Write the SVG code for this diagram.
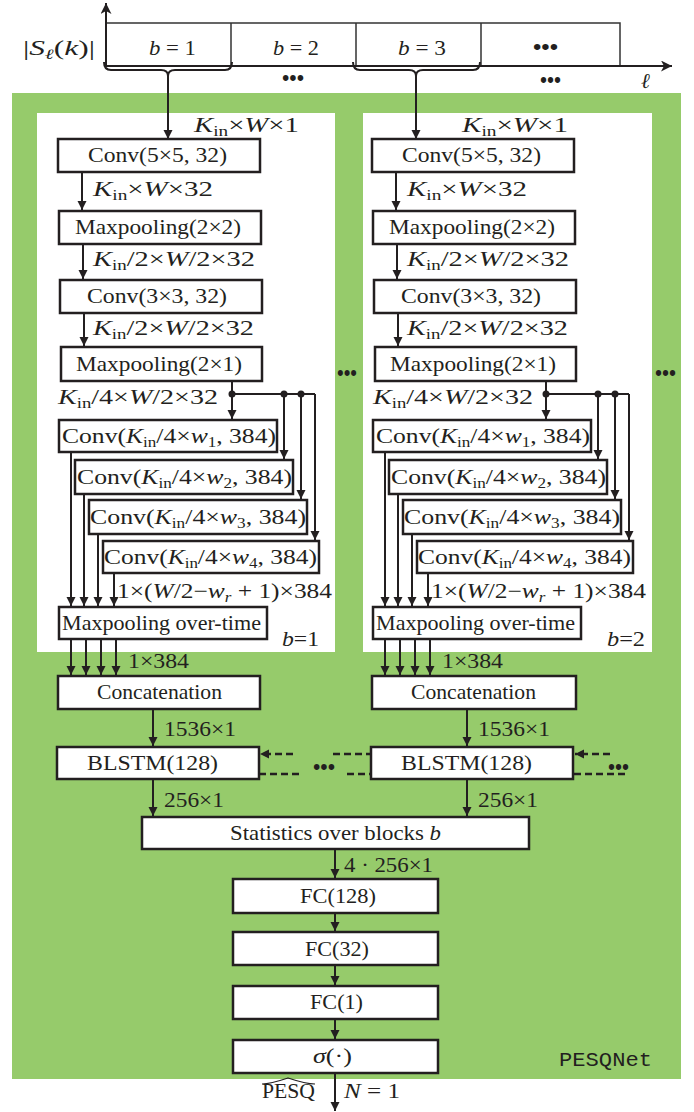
<svg xmlns="http://www.w3.org/2000/svg" width="694" height="1112" viewBox="0 0 694 1112">
<defs>
<style>
.t{font-family:"Liberation Serif",serif;font-size:21px;fill:#231f20}
.i{font-style:italic}
.s{font-size:14px}
.d{font-family:"Liberation Sans",sans-serif;font-size:22px;fill:#231f20}
.box{fill:#fff;stroke:#231f20;stroke-width:2.5}
.ln{stroke:#231f20;stroke-width:2;fill:none}
.ar{stroke:#231f20;stroke-width:2;fill:none;marker-end:url(#ah)}
.da{stroke:#231f20;stroke-width:2.5;fill:none;stroke-dasharray:7 4}
.dar{stroke:#231f20;stroke-width:2.5;fill:none;stroke-dasharray:7 4;marker-end:url(#ah)}
.ax{stroke:#231f20;stroke-width:2;fill:none;marker-end:url(#axh)}
</style>
<marker id="ah" markerUnits="userSpaceOnUse" markerWidth="10" markerHeight="10" refX="9" refY="4.5" orient="auto">
<path d="M0,0 L9,4.5 L0,9 z" fill="#231f20"/>
</marker>
<marker id="axh" markerUnits="userSpaceOnUse" markerWidth="12" markerHeight="12" refX="11" refY="5.5" orient="auto">
<path d="M0,0 L11,5.5 L0,11 L3,5.5 z" fill="#231f20"/>
</marker>
</defs>
<rect x="0" y="0" width="694" height="1112" fill="#fff"/>

<!-- input spectrogram band -->
<g id="input">
<rect x="106" y="23" width="514" height="43" fill="#fff" stroke="#333" stroke-width="1.5"/>
<path d="M231,23 V66 M356,23 V66 M481,23 V66" stroke="#333" stroke-width="1.5" fill="none"/>
<path class="ax" d="M106,66 V3"/>
<path class="ax" d="M106,66 H672"/>
<text class="t" x="23" y="55" textLength="72" lengthAdjust="spacingAndGlyphs">|<tspan class="i">S</tspan><tspan class="s i" dy="4">ℓ</tspan><tspan dy="-4">(</tspan><tspan class="i">k</tspan>)|</text>
<text class="t" x="149" y="55" textLength="47" lengthAdjust="spacingAndGlyphs"><tspan class="i">b</tspan> = 1</text>
<text class="t" x="273" y="55" textLength="46" lengthAdjust="spacingAndGlyphs"><tspan class="i">b</tspan> = 2</text>
<text class="t" x="398" y="55" textLength="48" lengthAdjust="spacingAndGlyphs"><tspan class="i">b</tspan> = 3</text>
<text class="d" x="533" y="54" textLength="25" lengthAdjust="spacingAndGlyphs">•••</text>
<text class="d" x="282" y="85" textLength="22" lengthAdjust="spacingAndGlyphs">•••</text>
<text class="d" x="540" y="87" textLength="21" lengthAdjust="spacingAndGlyphs">•••</text>
<text class="t i" x="641" y="88">ℓ</text>
<path class="ln" d="M104,62 Q104,70 111,70 L161,70 Q168,70 168,76 Q168,70 175,70 L225,70 Q232,70 232,62"/>
<path class="ln" d="M353,62 Q353,70 360,70 L409,70 Q416,70 416,76 Q416,70 423,70 L473,70 Q480,70 480,62"/>
</g>

<!-- network background -->
<g id="pesqnet">
<rect x="12" y="93" width="669" height="986" fill="#96cb6b"/>
<rect x="37" y="113" width="298" height="539" fill="#fff"/>
<rect x="363" y="113" width="289" height="539" fill="#fff"/>
<text x="559" y="1066" font-family="Liberation Mono, monospace" font-size="21" fill="#231f20" textLength="93" lengthAdjust="spacingAndGlyphs">PESQNet</text>
<text class="d" x="337" y="380" textLength="20" lengthAdjust="spacingAndGlyphs">•••</text>
<text class="d" x="655" y="380" textLength="21" lengthAdjust="spacingAndGlyphs">•••</text>
<text class="d" x="313" y="774" textLength="22" lengthAdjust="spacingAndGlyphs">•••</text>
<text class="d" x="608" y="774" textLength="21" lengthAdjust="spacingAndGlyphs">•••</text>
</g>

<!-- connectors -->
<g id="connectors">
<path class="ar" d="M168,76 V139"/>
<path class="ar" d="M416,76 V139"/>
<!-- left column -->
<path class="ar" d="M82,172 V210"/>
<path class="ar" d="M83,244 V279"/>
<path class="ar" d="M84,313 V346"/>
<path class="ar" d="M232,381 V419"/>
<path class="ln" d="M232,394 H315"/>
<path class="ar" d="M284,394 V459"/>
<path class="ar" d="M301,394 V499"/>
<path class="ar" d="M315,394 V540"/>
<path class="ar" d="M71,452 V606"/>
<path class="ar" d="M84,494 V606"/>
<path class="ar" d="M98,534 V606"/>
<path class="ar" d="M114,573 V606"/>
<path class="ar" d="M71,639 V675"/>
<path class="ar" d="M86,639 V675"/>
<path class="ar" d="M101,639 V675"/>
<path class="ar" d="M116,639 V675"/>
<path class="ar" d="M153,709 V746"/>
<path class="ar" d="M153,779 V816"/>
<!-- right column -->
<path class="ar" d="M396,172 V210"/>
<path class="ar" d="M397,244 V279"/>
<path class="ar" d="M398,313 V346"/>
<path class="ar" d="M546,381 V419"/>
<path class="ln" d="M546,394 H629"/>
<path class="ar" d="M598,394 V459"/>
<path class="ar" d="M615,394 V499"/>
<path class="ar" d="M629,394 V540"/>
<path class="ar" d="M385,452 V606"/>
<path class="ar" d="M398,494 V606"/>
<path class="ar" d="M412,534 V606"/>
<path class="ar" d="M428,573 V606"/>
<path class="ar" d="M385,639 V675"/>
<path class="ar" d="M400,639 V675"/>
<path class="ar" d="M415,639 V675"/>
<path class="ar" d="M430,639 V675"/>
<path class="ar" d="M467,709 V746"/>
<path class="ar" d="M467,779 V816"/>
<!-- junction dots -->
<circle cx="232" cy="394" r="3.5" fill="#231f20"/>
<circle cx="284" cy="394" r="3.5" fill="#231f20"/>
<circle cx="301" cy="394" r="3.5" fill="#231f20"/>
<circle cx="546" cy="394" r="3.5" fill="#231f20"/>
<circle cx="598" cy="394" r="3.5" fill="#231f20"/>
<circle cx="615" cy="394" r="3.5" fill="#231f20"/>
<!-- BLSTM recurrent dashed -->
<path class="dar" d="M293,754 H260"/>
<path class="da" d="M259,774 H303"/>
<path class="da" d="M333,754 H371"/>
<path class="da" d="M347,774 H371"/>
<path class="dar" d="M610,754 H575"/>
<path class="da" d="M574,774 H625"/>
<!-- head -->
<path class="ar" d="M335,849 V878"/>
<path class="ar" d="M335,913 V931"/>
<path class="ar" d="M335,965 V985"/>
<path class="ar" d="M335,1019 V1039"/>
<path class="ar" d="M335,1073 V1111"/>
<!-- labels -->
<text class="t" x="194" y="132" textLength="105" lengthAdjust="spacingAndGlyphs"><tspan class="i">K</tspan><tspan class="s" dy="4">in</tspan><tspan dy="-4">×</tspan><tspan class="i">W</tspan>×1</text>
<text class="t" x="462" y="132" textLength="106" lengthAdjust="spacingAndGlyphs"><tspan class="i">K</tspan><tspan class="s" dy="4">in</tspan><tspan dy="-4">×</tspan><tspan class="i">W</tspan>×1</text>
<text class="t" x="93" y="196" textLength="120" lengthAdjust="spacingAndGlyphs"><tspan class="i">K</tspan><tspan class="s" dy="4">in</tspan><tspan dy="-4">×</tspan><tspan class="i">W</tspan>×32</text>
<text class="t" x="407" y="196" textLength="120" lengthAdjust="spacingAndGlyphs"><tspan class="i">K</tspan><tspan class="s" dy="4">in</tspan><tspan dy="-4">×</tspan><tspan class="i">W</tspan>×32</text>
<text class="t" x="93" y="266" textLength="162" lengthAdjust="spacingAndGlyphs"><tspan class="i">K</tspan><tspan class="s" dy="4">in</tspan><tspan dy="-4">/2×</tspan><tspan class="i">W</tspan>/2×32</text>
<text class="t" x="407" y="266" textLength="162" lengthAdjust="spacingAndGlyphs"><tspan class="i">K</tspan><tspan class="s" dy="4">in</tspan><tspan dy="-4">/2×</tspan><tspan class="i">W</tspan>/2×32</text>
<text class="t" x="93" y="335" textLength="161" lengthAdjust="spacingAndGlyphs"><tspan class="i">K</tspan><tspan class="s" dy="4">in</tspan><tspan dy="-4">/2×</tspan><tspan class="i">W</tspan>/2×32</text>
<text class="t" x="407" y="335" textLength="161" lengthAdjust="spacingAndGlyphs"><tspan class="i">K</tspan><tspan class="s" dy="4">in</tspan><tspan dy="-4">/2×</tspan><tspan class="i">W</tspan>/2×32</text>
<text class="t" x="58" y="404" textLength="160" lengthAdjust="spacingAndGlyphs"><tspan class="i">K</tspan><tspan class="s" dy="4">in</tspan><tspan dy="-4">/4×</tspan><tspan class="i">W</tspan>/2×32</text>
<text class="t" x="373" y="404" textLength="160" lengthAdjust="spacingAndGlyphs"><tspan class="i">K</tspan><tspan class="s" dy="4">in</tspan><tspan dy="-4">/4×</tspan><tspan class="i">W</tspan>/2×32</text>
<text class="t" x="117" y="598" textLength="215" lengthAdjust="spacingAndGlyphs">1×(<tspan class="i">W</tspan>/2−<tspan class="i">w</tspan><tspan class="s i" dy="4">r</tspan><tspan dy="-4"> + 1)×384</tspan></text>
<text class="t" x="431" y="598" textLength="215" lengthAdjust="spacingAndGlyphs">1×(<tspan class="i">W</tspan>/2−<tspan class="i">w</tspan><tspan class="s i" dy="4">r</tspan><tspan dy="-4"> + 1)×384</tspan></text>
<text class="t" x="282" y="646" textLength="37" lengthAdjust="spacingAndGlyphs"><tspan class="i">b</tspan>=1</text>
<text class="t" x="607" y="646" textLength="38" lengthAdjust="spacingAndGlyphs"><tspan class="i">b</tspan>=2</text>
<text class="t" x="128" y="668" textLength="61" lengthAdjust="spacingAndGlyphs">1×384</text>
<text class="t" x="442" y="668" textLength="61" lengthAdjust="spacingAndGlyphs">1×384</text>
<text class="t" x="164" y="736" textLength="72" lengthAdjust="spacingAndGlyphs">1536×1</text>
<text class="t" x="478" y="736" textLength="72" lengthAdjust="spacingAndGlyphs">1536×1</text>
<text class="t" x="164" y="807" textLength="60" lengthAdjust="spacingAndGlyphs">256×1</text>
<text class="t" x="478" y="807" textLength="60" lengthAdjust="spacingAndGlyphs">256×1</text>
<text class="t" x="344" y="872" textLength="89" lengthAdjust="spacingAndGlyphs">4 · 256×1</text>
<text class="t" x="262" y="1098" font-size="19" textLength="53" lengthAdjust="spacingAndGlyphs">PESQ</text>
<path d="M262,1084 Q270,1084 288,1078 Q306,1084 315,1084" stroke="#231f20" stroke-width="1.2" fill="none"/>
<text class="t" x="344" y="1098" textLength="56" lengthAdjust="spacingAndGlyphs"><tspan class="i">N</tspan> = 1</text>
</g>

<!-- left column nodes -->
<g id="conv1_b1"><rect class="box" x="58" y="139" width="202" height="33"/><text class="t" x="88" y="162" textLength="139" lengthAdjust="spacingAndGlyphs">Conv(5×5, 32)</text></g>
<g id="pool1_b1"><rect class="box" x="59" y="211" width="202" height="33"/><text class="t" x="75" y="234" textLength="166" lengthAdjust="spacingAndGlyphs">Maxpooling(2×2)</text></g>
<g id="conv2_b1"><rect class="box" x="60" y="280" width="202" height="33"/><text class="t" x="87" y="303" textLength="140" lengthAdjust="spacingAndGlyphs">Conv(3×3, 32)</text></g>
<g id="pool2_b1"><rect class="box" x="61" y="347" width="201" height="34"/><text class="t" x="76" y="371" textLength="166" lengthAdjust="spacingAndGlyphs">Maxpooling(2×1)</text></g>
<g id="convw1_b1"><rect class="box" x="59" y="420" width="218" height="32"/><text class="t" x="62" y="443" textLength="214" lengthAdjust="spacingAndGlyphs">Conv(<tspan class="i">K</tspan><tspan class="s" dy="4">in</tspan><tspan dy="-4">/4×</tspan><tspan class="i">w</tspan><tspan class="s" dy="4">1</tspan><tspan dy="-4">, 384)</tspan></text></g>
<g id="convw2_b1"><rect class="box" x="75" y="460" width="218" height="34"/><text class="t" x="77" y="484" textLength="215" lengthAdjust="spacingAndGlyphs">Conv(<tspan class="i">K</tspan><tspan class="s" dy="4">in</tspan><tspan dy="-4">/4×</tspan><tspan class="i">w</tspan><tspan class="s" dy="4">2</tspan><tspan dy="-4">, 384)</tspan></text></g>
<g id="convw3_b1"><rect class="box" x="89" y="500" width="218" height="34"/><text class="t" x="90" y="524" textLength="216" lengthAdjust="spacingAndGlyphs">Conv(<tspan class="i">K</tspan><tspan class="s" dy="4">in</tspan><tspan dy="-4">/4×</tspan><tspan class="i">w</tspan><tspan class="s" dy="4">3</tspan><tspan dy="-4">, 384)</tspan></text></g>
<g id="convw4_b1"><rect class="box" x="103" y="541" width="216" height="32"/><text class="t" x="104" y="564" textLength="213" lengthAdjust="spacingAndGlyphs">Conv(<tspan class="i">K</tspan><tspan class="s" dy="4">in</tspan><tspan dy="-4">/4×</tspan><tspan class="i">w</tspan><tspan class="s" dy="4">4</tspan><tspan dy="-4">, 384)</tspan></text></g>
<g id="mpot_b1"><rect class="box" x="59" y="607" width="208" height="32"/><text class="t" x="62" y="630" textLength="199" lengthAdjust="spacingAndGlyphs">Maxpooling over-time</text></g>
<g id="concat_b1"><rect class="box" x="58" y="676" width="202" height="33"/><text class="t" x="97" y="699" textLength="125" lengthAdjust="spacingAndGlyphs">Concatenation</text></g>
<g id="blstm_b1"><rect class="box" x="57" y="747" width="202" height="32"/><text class="t" x="87" y="770" textLength="131" lengthAdjust="spacingAndGlyphs">BLSTM(128)</text></g>

<!-- right column nodes -->
<g id="conv1_b2"><rect class="box" x="372" y="139" width="202" height="33"/><text class="t" x="402" y="162" textLength="139" lengthAdjust="spacingAndGlyphs">Conv(5×5, 32)</text></g>
<g id="pool1_b2"><rect class="box" x="373" y="211" width="202" height="33"/><text class="t" x="389" y="234" textLength="166" lengthAdjust="spacingAndGlyphs">Maxpooling(2×2)</text></g>
<g id="conv2_b2"><rect class="box" x="374" y="280" width="202" height="33"/><text class="t" x="401" y="303" textLength="140" lengthAdjust="spacingAndGlyphs">Conv(3×3, 32)</text></g>
<g id="pool2_b2"><rect class="box" x="375" y="347" width="201" height="34"/><text class="t" x="390" y="371" textLength="166" lengthAdjust="spacingAndGlyphs">Maxpooling(2×1)</text></g>
<g id="convw1_b2"><rect class="box" x="373" y="420" width="218" height="32"/><text class="t" x="376" y="443" textLength="214" lengthAdjust="spacingAndGlyphs">Conv(<tspan class="i">K</tspan><tspan class="s" dy="4">in</tspan><tspan dy="-4">/4×</tspan><tspan class="i">w</tspan><tspan class="s" dy="4">1</tspan><tspan dy="-4">, 384)</tspan></text></g>
<g id="convw2_b2"><rect class="box" x="389" y="460" width="218" height="34"/><text class="t" x="391" y="484" textLength="215" lengthAdjust="spacingAndGlyphs">Conv(<tspan class="i">K</tspan><tspan class="s" dy="4">in</tspan><tspan dy="-4">/4×</tspan><tspan class="i">w</tspan><tspan class="s" dy="4">2</tspan><tspan dy="-4">, 384)</tspan></text></g>
<g id="convw3_b2"><rect class="box" x="403" y="500" width="218" height="34"/><text class="t" x="404" y="524" textLength="216" lengthAdjust="spacingAndGlyphs">Conv(<tspan class="i">K</tspan><tspan class="s" dy="4">in</tspan><tspan dy="-4">/4×</tspan><tspan class="i">w</tspan><tspan class="s" dy="4">3</tspan><tspan dy="-4">, 384)</tspan></text></g>
<g id="convw4_b2"><rect class="box" x="417" y="541" width="216" height="32"/><text class="t" x="418" y="564" textLength="213" lengthAdjust="spacingAndGlyphs">Conv(<tspan class="i">K</tspan><tspan class="s" dy="4">in</tspan><tspan dy="-4">/4×</tspan><tspan class="i">w</tspan><tspan class="s" dy="4">4</tspan><tspan dy="-4">, 384)</tspan></text></g>
<g id="mpot_b2"><rect class="box" x="373" y="607" width="208" height="32"/><text class="t" x="376" y="630" textLength="199" lengthAdjust="spacingAndGlyphs">Maxpooling over-time</text></g>
<g id="concat_b2"><rect class="box" x="372" y="676" width="204" height="33"/><text class="t" x="411" y="699" textLength="125" lengthAdjust="spacingAndGlyphs">Concatenation</text></g>
<g id="blstm_b2"><rect class="box" x="371" y="747" width="202" height="32"/><text class="t" x="401" y="770" textLength="131" lengthAdjust="spacingAndGlyphs">BLSTM(128)</text></g>

<!-- head nodes -->
<g id="stats"><rect class="box" x="142" y="817" width="387" height="32"/><text class="t" x="230" y="840" textLength="211" lengthAdjust="spacingAndGlyphs">Statistics over blocks <tspan class="i">b</tspan></text></g>
<g id="fc128"><rect class="box" x="233" y="879" width="205" height="34"/><text class="t" x="300" y="903" textLength="76" lengthAdjust="spacingAndGlyphs">FC(128)</text></g>
<g id="fc32"><rect class="box" x="233" y="932" width="205" height="33"/><text class="t" x="305" y="956" textLength="64" lengthAdjust="spacingAndGlyphs">FC(32)</text></g>
<g id="fc1"><rect class="box" x="233" y="986" width="205" height="33"/><text class="t" x="310" y="1009" textLength="53" lengthAdjust="spacingAndGlyphs">FC(1)</text></g>
<g id="sigma"><rect class="box" x="233" y="1040" width="205" height="33"/><text class="t" x="313" y="1063" textLength="39" lengthAdjust="spacingAndGlyphs"><tspan class="i">σ</tspan>(·)</text></g>
</svg>
